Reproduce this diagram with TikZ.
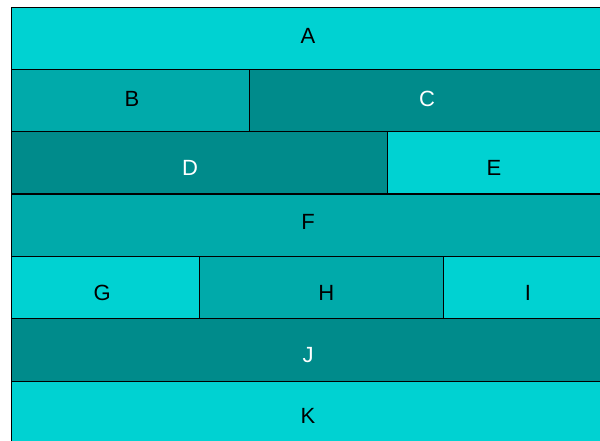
\documentclass[tikz,border=0pt]{standalone}
\usepackage{fontspec}
\setmainfont{Liberation Sans}
\definecolor{tealLight}{RGB}{0,210,210}
\definecolor{tealMid}{RGB}{0,170,170}
\definecolor{tealDark}{RGB}{0,139,139}
\tikzset{
	cell/.style={draw=black, line width=0.9pt, minimum height=62.3pt, inner sep=0pt},
	lightcell/.style={cell, fill=tealLight},
	midcell/.style={cell, fill=tealMid},
	darkcell/.style={cell, fill=tealDark},
	celltext/.style={inner sep=0pt, font=\fontsize{22}{26}\selectfont, text=black},
	celltextw/.style={celltext, text=white}
}
\begin{document}
\begin{tikzpicture}[x=1pt, y=-1pt]
		\useasboundingbox (0,0) rectangle (600,441);
		\clip (0,0) rectangle (600,441);
		
		% Row 1
		\node[lightcell, minimum width=594pt, label={[celltext, shift={(0pt,2pt)}]center:A}] (a) at (308, 38.2) {};
		
		% Row 2
		\node[midcell, minimum width=238pt, label={[celltext, shift={(2pt,2pt)}]center:B}] (b) at (130, 100.5) {};
		\node[darkcell, minimum width=356pt, label={[celltextw, shift={(0pt,2pt)}]center:C}] (c) at (427, 100.5) {};
		
		% Row 3
		\node[darkcell, minimum width=376pt, label={[celltextw, shift={(-9pt,-5pt)}]center:D}] (d) at (199, 162.8) {};
		\node[lightcell, minimum width=218pt, label={[celltext, shift={(-2pt,-5pt)}]center:E}] (e) at (496, 162.8) {};
		
		% Row 4
		\node[midcell, minimum width=594pt, label={[celltext, shift={(0pt,3pt)}]center:F}] (f) at (308, 225.2) {};
		
		% Row 5
		\node[lightcell, minimum width=188.5pt, label={[celltext, shift={(-3pt,-5pt)}]center:G}] (g) at (105.25, 287.5) {};
		\node[midcell, minimum width=243.5pt, label={[celltext, shift={(5pt,-5pt)}]center:H}] (h) at (321.25, 287.5) {};
		\node[lightcell, minimum width=162pt, label={[celltext, shift={(4pt,-5pt)}]center:I}] (i) at (524, 287.5) {};
		
		% Row 6
		\node[darkcell, minimum width=594pt, label={[celltextw, shift={(0pt,-5pt)}]center:J}] (j) at (308, 349.8) {};
		
		% Row 7
		\node[lightcell, minimum width=594pt, label={[celltext, shift={(0pt,-4pt)}]center:K}] (k) at (308, 412.2) {};
	\end{tikzpicture}
\end{document}
